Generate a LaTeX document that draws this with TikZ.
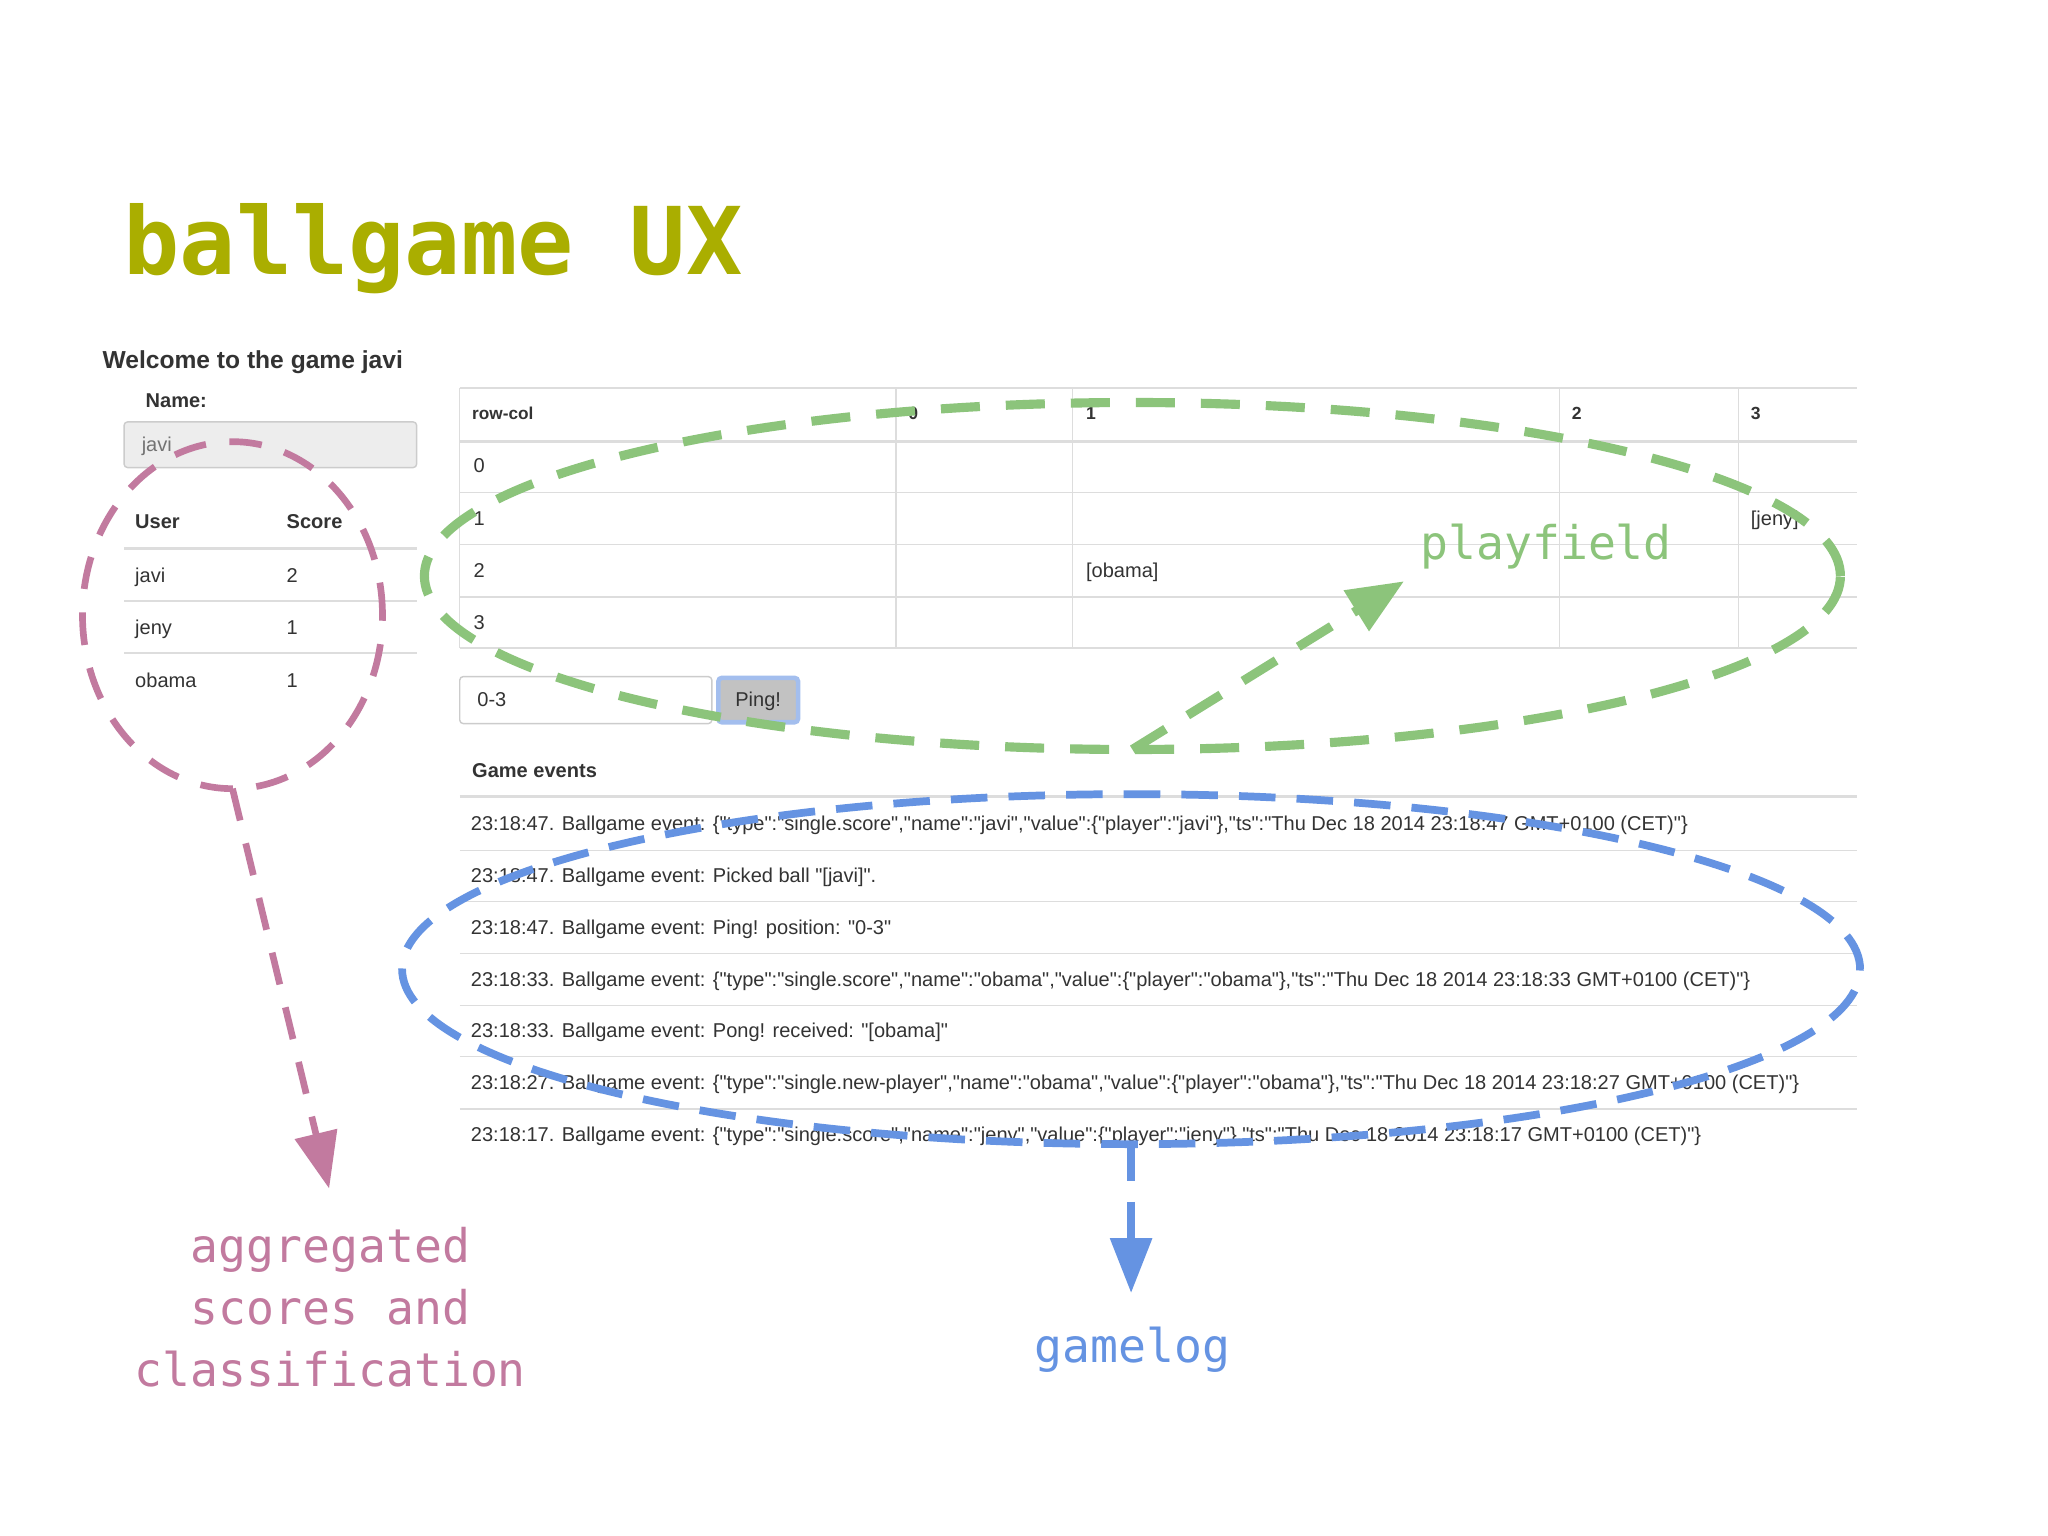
\documentclass[tikz,border=0pt]{standalone}
\usepackage{fontspec}
\setmainfont{Liberation Sans}[Ligatures=TeXOff]
\newfontfamily\slidemono{DejaVu Sans Mono}
\usetikzlibrary{arrows.meta,shapes.geometric}

\definecolor{titleolive}{HTML}{AAAE00}
\definecolor{fieldgreen}{HTML}{8CC47B}
\definecolor{logblue}{HTML}{6593E2}
\definecolor{scorepink}{HTML}{C27A9F}
\definecolor{uitext}{HTML}{333333}
\definecolor{uiline}{HTML}{DDDDDD}
\definecolor{uiborder}{HTML}{CCCCCC}

\newcommand{\uifont}{\fontsize{5.7pt}{6.8pt}\selectfont}

\begin{document}
\begin{tikzpicture}[x=0.01306cm,y=-0.01306cm,
    uitxt/.style={anchor=base west,inner sep=0pt,text=uitext,font=\uifont},
    uihead/.style={uitxt,font=\uifont\bfseries},
    hint/.style={inner sep=0pt,font=\slidemono\fontsize{13.2pt}{17.6pt}\selectfont},
    ring/.style={ellipse,inner sep=0pt,outer sep=0pt},
    scorering/.style={draw=scorepink,line width=1.9pt,dash pattern=on 9.3pt off 6.7pt},
    fieldring/.style={draw=fieldgreen,line width=2.6pt,dash pattern=on 11.1pt off 7.4pt},
    logring/.style={draw=logblue,line width=2.2pt,dash pattern=on 10.4pt off 6pt}]
\fill[white] (0,0) rectangle (1568,1176);
\useasboundingbox (0,0) rectangle (1568,1176);

% title
\node[anchor=base west,inner sep=0pt,text=titleolive,font=\slidemono\bfseries\fontsize{26.6pt}{30pt}\selectfont] (title) at (94,210) {ballgame UX};

% left column
\node[uitxt,font=\fontsize{7pt}{8pt}\selectfont\bfseries] (welcome) at (78,282) {Welcome to the game javi};
\node[uihead] (namelbl) at (111,312) {Name:};
\draw[uiborder,fill=black!7,rounded corners=1pt] (95,323) rectangle (319,358);
\node[uitxt,text=black!55] (namebox) at (108,346) {javi};
\draw[uiline,line width=0.75pt] (95,420) -- (319,420);
\foreach \y in {460,500} \draw[uiline,line width=0.4pt] (95,\y) -- (319,\y);
\node[uihead] (userhd) at (103,405) {User};
\node[uihead] (scorehd) at (219,405) {Score};
\foreach \n/\s [count=\i] in {javi/2,jeny/1,obama/1} {
  \node[uitxt] (user\i) at (103,{406+40*\i}) {\n};
  \node[uitxt] (score\i) at (219,{406+40*\i}) {\s};
}

% playfield table
\draw[uiline,line width=0.4pt] (352,297) -- (1422,297);
\draw[uiline,line width=0.75pt] (352,338) -- (1422,338);
\foreach \y in {377,417,457,496} \draw[uiline,line width=0.4pt] (352,\y) -- (1422,\y);
\foreach \x in {352,686,821,1194,1331} \draw[uiline,line width=0.4pt] (\x,297) -- (\x,496);
\node[uihead,font=\fontsize{4.9pt}{6pt}\selectfont\bfseries] (rowcol) at (361,321) {row-col};
\foreach \c/\x in {0/695,1/831,2/1203,3/1340}
  \node[uihead,font=\fontsize{5pt}{6pt}\selectfont\bfseries] (col\c) at (\x,321) {\c};
\foreach \r in {0,...,3} \node[uitxt] (row\r) at (362,{362+40*\r}) {\r};
\node[uitxt] (cellobama) at (831,442) {[obama]};
\node[uitxt] (celljeny) at (1340,402) {[jeny]};

% ping form
\draw[uiborder,fill=white,rounded corners=1pt] (352,518) rectangle (545,554);
\node[uitxt] (pos) at (365,541) {0-3};
\draw[logblue!60,line width=1.3pt,fill=black!24,rounded corners=1pt] (550,519) rectangle (611,553);
\node[uitxt,anchor=base] (ping) at (580.5,541) {Ping!};

% game events
\node[uihead] (events) at (361,595) {Game events};
\draw[uiline,line width=0.75pt] (352,610) -- (1422,610);
\foreach \y in {651,690,730,770,809,849} \draw[uiline,line width=0.4pt] (352,\y) -- (1422,\y);
\foreach \t [count=\i] in {
  {23:18:47. Ballgame event: \{"type":"single.score","name":"javi","value":\{"player":"javi"\},"ts":"Thu Dec 18 2014 23:18:47 GMT+0100 (CET)"\}},
  {23:18:47. Ballgame event: Picked ball "[javi]".},
  {23:18:47. Ballgame event: Ping! position: "0-3"},
  {23:18:33. Ballgame event: \{"type":"single.score","name":"obama","value":\{"player":"obama"\},"ts":"Thu Dec 18 2014 23:18:33 GMT+0100 (CET)"\}},
  {23:18:33. Ballgame event: Pong! received: "[obama]"},
  {23:18:27. Ballgame event: \{"type":"single.new-player","name":"obama","value":\{"player":"obama"\},"ts":"Thu Dec 18 2014 23:18:27 GMT+0100 (CET)"\}},
  {23:18:17. Ballgame event: \{"type":"single.score","name":"jeny","value":\{"player":"jeny"\},"ts":"Thu Dec 18 2014 23:18:17 GMT+0100 (CET)"\}}}
  \node[uitxt] (ev\i) at (360,{596.3+39.67*\i}) {\t};

% rings
\node[ring,scorering,minimum width=3.0cm,minimum height=3.47cm] (scores) at (178,471) {};
\node[ring,fieldring,minimum width=14.16cm,minimum height=3.47cm] (playfield) at (867,441) {};
\node[ring,logring,minimum width=14.58cm,minimum height=3.5cm] (gamelog) at (866,742) {};

% labels
\node[hint,text=fieldgreen,anchor=base west] (fieldlbl) at (1087,428) {playfield};
\node[hint,text=logblue,anchor=base] (loglbl) at (867,1043) {gamelog};
\node[hint,text=scorepink,align=center] (scorelbl) at (253,1001) {aggregated\\scores and\\classification};

% arrows
\coordinate (scoretip) at (252,910);
\coordinate (fieldtip) at (1075,445);
\coordinate (logtip) at (866,990);
\draw[scorering,-{Triangle[length=16pt,width=12pt]}] (scores.south) -- (scoretip);
\draw[fieldring,-{Triangle[length=16pt,width=13pt]}] (playfield.south) -- (fieldtip);
\draw[logring,-{Triangle[length=15.6pt,width=11.5pt]}] (gamelog.south) -- (logtip);
\end{tikzpicture}
\end{document}
